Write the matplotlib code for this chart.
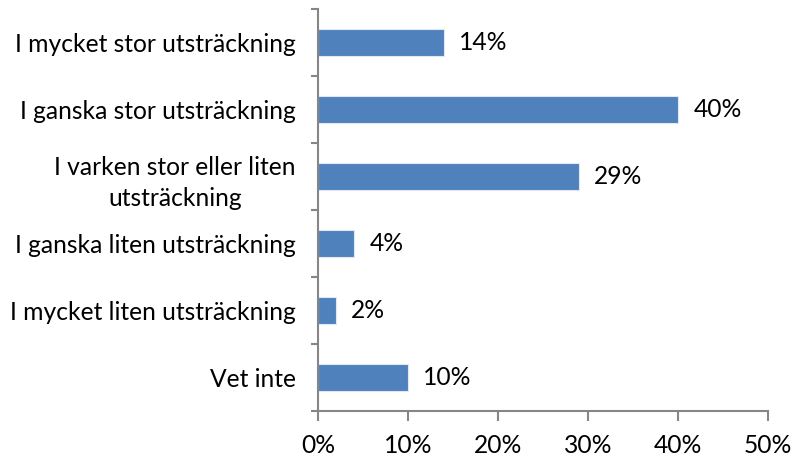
import matplotlib.pyplot as plt
from matplotlib.ticker import MultipleLocator, FuncFormatter

categories = ["I mycket stor utsträckning", "I ganska stor utsträckning",
              "I varken stor eller liten\nutsträckning", "I ganska liten utsträckning",
              "I mycket liten utsträckning", "Vet inte"]
values = [14, 40, 29, 4, 2, 10]

plt.rcParams['font.family'] = ['Lato', 'DejaVu Sans']
axis_col = '#868686'
fs = 17.7

fig = plt.figure(figsize=(7.95, 4.59), dpi=100)
ax = fig.add_axes([0.400, 0.1046, 0.566, 0.8754])

pos = list(range(len(categories)))
ax.barh(pos, values, height=0.4, color='#4F81BD', edgecolor='#dfe8f3', linewidth=0.8)
ax.set_ylim(len(categories) - 0.5, -0.5)
ax.set_xlim(0, 50)

for p, v in zip(pos, values):
    ax.text(v + 1.7, p, f"{v}%", va='center', ha='left', fontsize=fs)

ax.set_yticks(pos)
ax.set_yticklabels(categories, multialignment='center', linespacing=1.45)
ax.set_yticks([p + 0.5 for p in [-1] + pos], minor=True)
ax.tick_params(axis='y', which='major', length=0, pad=16, labelsize=fs)
ax.tick_params(axis='y', which='minor', length=5, color=axis_col, width=1.5)
ax.xaxis.set_major_locator(MultipleLocator(10))
ax.xaxis.set_major_formatter(FuncFormatter(lambda x, _: f"{x:.0f}%"))
ax.tick_params(axis='x', length=7, color=axis_col, width=1.5, pad=9.5, labelsize=fs)

for s in ['top', 'right']:
    ax.spines[s].set_visible(False)
for s in ['left', 'bottom']:
    ax.spines[s].set_color(axis_col)
    ax.spines[s].set_linewidth(1.5)

fig.savefig('out.png', dpi=100)
